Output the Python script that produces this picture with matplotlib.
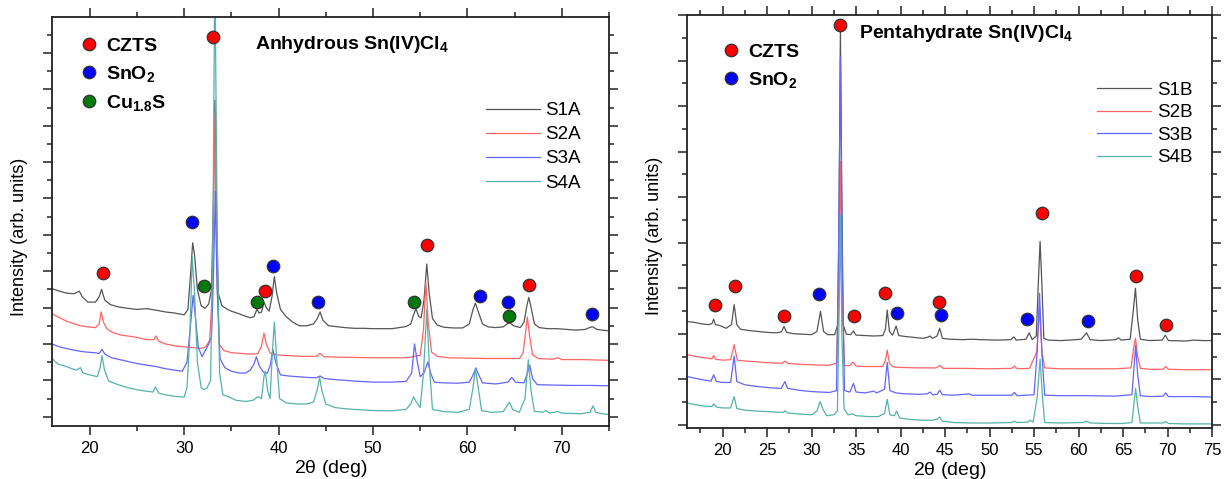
import matplotlib
matplotlib.use("Agg")
import matplotlib.pyplot as plt
from matplotlib.lines import Line2D
from matplotlib.ticker import MultipleLocator

plt.rcParams['font.family'] = ['Liberation Sans', 'DejaVu Sans']
plt.rcParams['mathtext.fontset'] = 'custom'
plt.rcParams['mathtext.rm'] = 'Liberation Sans'
plt.rcParams['mathtext.bf'] = 'Liberation Sans:bold'
plt.rcParams['mathtext.default'] = 'regular'

# ---- traced patterns, panel A (anhydrous) : 2theta, intensity (arb.)
s1a_tt = [16.0, 16.8, 17.5, 18.3, 18.9, 19.2, 19.8, 20.6, 21.0, 21.25, 21.6, 22.2, 23.0, 24.0, 25.0, 26.0, 27.0,
          28.0, 29.0, 30.0, 30.4, 30.7, 30.9, 31.1, 31.4, 31.8, 32.2, 32.6, 32.9, 33.1, 33.25, 33.4, 33.6, 34.0,
          34.6, 35.0, 35.6, 36.3, 37.0, 37.4, 37.7, 37.95, 38.2, 38.45, 38.7, 39.0, 39.3, 39.55, 39.8, 40.2, 40.8,
          41.5, 42.2, 43.0, 43.7, 44.1, 44.4, 44.7, 45.3, 46.0, 47.0, 48.0, 49.0, 50.0, 51.0, 52.0, 52.8, 53.5,
          54.0, 54.3, 54.55, 54.85, 55.1, 55.4, 55.7, 55.95, 56.3, 56.8, 57.5, 58.5, 59.5, 60.2, 60.6, 60.85,
          61.2, 61.6, 62.2, 63.0, 63.8, 64.2, 64.5, 64.9, 65.6, 66.0, 66.3, 66.5, 66.75, 67.1, 67.6, 68.5, 69.5,
          70.5, 71.5, 72.5, 73.0, 73.3, 73.7, 74.3, 75.0]
s1a_iv = [3.52, 3.45, 3.40, 3.38, 3.45, 3.30, 3.15, 3.15, 3.30, 3.50, 3.20, 3.08, 3.02, 2.98, 2.95, 2.97, 2.93,
          2.88, 2.85, 2.80, 2.95, 4.0, 4.78, 4.45, 3.5, 3.05, 2.98, 3.1, 3.5, 6.0, 8.7, 6.0, 3.4, 3.05,
          2.95, 2.9, 2.85, 2.78, 2.72, 2.75, 2.95, 2.85, 2.88, 3.15, 3.0, 2.9, 3.3, 3.85, 3.4, 2.95, 2.75,
          2.6, 2.5, 2.5, 2.55, 2.7, 2.88, 2.65, 2.5, 2.48, 2.45, 2.43, 2.43, 2.42, 2.42, 2.42, 2.45, 2.48,
          2.55, 2.8, 2.97, 2.75, 2.72, 3.2, 4.2, 3.4, 2.7, 2.52, 2.46, 2.44, 2.44, 2.55, 2.95, 3.12,
          2.85, 2.55, 2.47, 2.45, 2.47, 2.55, 2.58, 2.5, 2.45, 2.6, 3.05, 3.28, 3.0, 2.55, 2.45, 2.42, 2.42,
          2.4, 2.38, 2.40, 2.46, 2.47, 2.40, 2.38, 2.36]

s2a_tt = [16.0, 16.8, 17.6, 18.4, 19.0, 19.8, 20.6, 21.0, 21.2, 21.45, 21.8, 22.4, 23.2, 24.0, 25.0, 26.0, 26.8,
          27.0, 27.3, 28.0, 29.0, 30.0, 31.0, 31.8, 32.3, 32.7, 33.0, 33.25, 33.45, 33.7, 34.2, 35.0, 36.0,
          37.0, 37.8, 38.2, 38.45, 38.7, 39.1, 39.8, 41.0, 42.5, 44.0, 44.4, 44.8, 46.0, 48.0, 50.0, 52.0,
          53.5, 54.3, 54.6, 55.0, 55.35, 55.6, 55.85, 56.2, 56.8, 58.0, 60.0, 62.0, 64.0, 65.5, 65.9, 66.15,
          66.35, 66.6, 66.9, 67.5, 69.0, 69.6, 70.0, 72.0, 75.0]
s2a_iv = [2.83, 2.72, 2.62, 2.55, 2.50, 2.47, 2.45, 2.55, 2.88, 2.6, 2.42, 2.32, 2.25, 2.22, 2.18, 2.12, 2.12,
          2.22, 2.08, 2.0, 1.95, 1.92, 1.9, 1.88, 1.92, 2.1, 3.5, 8.35, 4.0, 2.0, 1.82, 1.76, 1.74,
          1.72, 1.73, 1.95, 2.3, 2.0, 1.75, 1.70, 1.68, 1.66, 1.66, 1.74, 1.65, 1.64, 1.63, 1.62, 1.62,
          1.62, 1.65, 1.68, 1.68, 2.4, 3.7, 2.6, 1.78, 1.66, 1.62, 1.61, 1.60, 1.6, 1.60, 1.75, 2.3,
          2.74, 2.2, 1.7, 1.6, 1.58, 1.62, 1.57, 1.57, 1.55]

s3a_tt = [16.0, 16.8, 17.6, 18.5, 19.5, 20.5, 21.0, 21.3, 21.6, 22.3, 23.0, 24.0, 25.0, 26.0, 27.0, 28.0, 29.0,
          29.8, 30.3, 30.7, 30.95, 31.2, 31.5, 31.9, 32.3, 32.6, 32.9, 33.1, 33.3, 33.5, 33.8, 34.3, 35.0,
          35.8, 36.5, 37.0, 37.4, 37.65, 37.95, 38.4, 38.8, 39.1, 39.4, 39.7, 40.2, 41.0, 42.0, 43.0, 44.0,
          44.4, 44.8, 46.0, 48.0, 50.0, 52.0, 53.5, 54.1, 54.4, 54.7, 55.0, 55.4, 55.8, 56.1, 56.5, 57.5,
          59.0, 60.2, 60.6, 60.9, 61.2, 61.6, 63.0, 64.3, 64.7, 65.1, 66.0, 66.3, 66.6, 66.9, 67.4, 69.0,
          71.0, 73.0, 75.0]
s3a_iv = [2.0, 1.92, 1.87, 1.82, 1.78, 1.76, 1.74, 1.85, 1.72, 1.62, 1.58, 1.52, 1.46, 1.42, 1.38, 1.32, 1.28,
          1.25, 1.5, 2.6, 3.34, 2.7, 1.9, 1.65, 1.85, 2.0, 2.2, 3.8, 6.2, 3.5, 1.6, 1.35, 1.25,
          1.2, 1.2, 1.28, 1.45, 1.65, 1.4, 1.22, 1.2, 1.4, 1.85, 1.5, 1.15, 1.12, 1.1, 1.08, 1.07,
          1.12, 1.05, 1.02, 0.98, 0.95, 0.95, 0.97, 1.2, 2.0, 1.5, 1.1, 1.2, 1.5, 1.2, 0.95, 0.93,
          0.92, 0.95, 1.15, 1.34, 1.15, 0.93, 0.9, 0.95, 1.08, 0.95, 0.93, 1.15, 1.42, 1.05, 0.88, 0.87,
          0.86, 0.86, 0.85]

s4a_tt = [16.0, 16.6, 17.3, 18.0, 18.6, 19.0, 19.3, 20.0, 20.8, 21.1, 21.3, 21.55, 22.0, 23.0, 24.0, 25.0, 26.0,
          26.7, 26.95, 27.3, 28.0, 29.0, 30.0, 30.3, 30.6, 30.85, 31.1, 31.4, 31.8, 32.1, 32.4, 32.8, 33.05,
          33.25, 33.5, 33.75, 34.1, 34.7, 35.5, 36.5, 37.3, 37.8, 38.2, 38.45, 38.6, 38.85, 39.1, 39.35, 39.55,
          39.8, 40.1, 40.8, 42.0, 43.0, 43.7, 44.1, 44.35, 44.6, 45.0, 46.0, 47.0, 48.0, 50.0, 52.0, 53.5,
          54.0, 54.3, 54.6, 55.0, 55.35, 55.7, 55.95, 56.3, 57.5, 59.0, 60.2, 60.6, 60.85, 61.15, 61.5, 62.5,
          63.8, 64.2, 64.45, 64.8, 65.5, 66.1, 66.45, 66.75, 67.1, 68.0, 68.3, 68.7, 69.6, 70.0, 72.0, 73.0,
          73.3, 73.6, 74.3, 75.0]
s4a_iv = [1.6, 1.45, 1.4, 1.33, 1.28, 1.35, 1.2, 1.15, 1.1, 1.35, 1.68, 1.3, 0.98, 0.88, 0.8, 0.74, 0.7,
          0.68, 0.82, 0.65, 0.6, 0.56, 0.54, 0.8, 2.2, 4.4, 3.4, 1.5, 0.8, 0.75, 0.78, 1.0, 5.0,
          12.5, 5.0, 1.2, 0.6, 0.55, 0.45, 0.42, 0.45, 0.55, 0.5, 1.1, 1.25, 0.7, 0.5, 1.8, 2.6,
          1.6, 0.5, 0.38, 0.35, 0.35, 0.4, 0.75, 1.08, 0.7, 0.35, 0.25, 0.22, 0.2, 0.17, 0.16, 0.2,
          0.35, 0.55, 0.4, 0.25, 1.2, 2.95, 1.5, 0.2, 0.14, 0.12, 0.2, 0.8, 1.33, 0.8, 0.17, 0.12,
          0.14, 0.3, 0.4, 0.2, 0.12, 0.5, 1.56, 0.7, 0.15, 0.12, 0.17, 0.1, 0.14, 0.1, 0.08, 0.12,
          0.3, 0.12, 0.08, 0.06]

# ---- traced patterns, panel B (pentahydrate)
s1b_tt = [16.0, 16.8, 17.6, 18.4, 18.8, 19.0, 19.2, 19.7, 20.4, 21.0, 21.3, 21.6, 22.0, 23.0, 24.0, 25.0, 26.0,
          26.6, 26.9, 27.2, 28.0, 29.0, 30.0, 30.6, 31.0, 31.35, 31.8, 32.6, 32.95, 33.1, 33.24, 33.4, 33.55,
          33.9, 34.4, 34.7, 35.0, 36.0, 37.0, 38.0, 38.3, 38.5, 38.75, 39.1, 39.5, 39.8, 40.5, 41.5, 42.5,
          43.0, 43.3, 43.6, 44.1, 44.4, 44.7, 45.5, 47.0, 48.0, 49.0, 51.0, 52.4, 52.75, 53.0, 54.1, 54.45,
          54.8, 55.25, 55.5, 55.68, 55.9, 56.1, 56.6, 58.0, 59.0, 60.3, 60.9, 61.3, 62.5, 64.2, 64.5, 64.8,
          65.8, 66.15, 66.4, 66.65, 66.95, 68.0, 69.4, 69.75, 70.1, 72.0, 73.0, 74.0, 75.0]
s1b_iv = [2.27, 2.25, 2.22, 2.2, 2.22, 2.32, 2.2, 2.18, 2.12, 2.2, 2.64, 2.2, 2.1, 2.07, 2.05, 2.03, 2.02,
          2.04, 2.16, 2.03, 2.0, 1.99, 1.98, 2.05, 2.49, 2.05, 1.98, 1.98, 2.2, 5.0, 8.7, 5.0, 2.2,
          1.99, 1.98, 2.06, 1.97, 1.96, 1.95, 1.96, 2.1, 2.52, 2.05, 1.97, 2.17, 1.96, 1.94, 1.92, 1.9,
          1.92, 1.95, 1.9, 1.95, 2.12, 1.9, 1.88, 1.87, 1.88, 1.87, 1.86, 1.87, 1.93, 1.86, 1.88, 2.02,
          1.87, 1.95, 3.2, 4.03, 3.0, 1.9, 1.86, 1.85, 1.86, 1.88, 2.02, 1.87, 1.85, 1.87, 1.91, 1.86,
          1.88, 2.5, 3.0, 2.3, 1.88, 1.85, 1.86, 1.97, 1.85, 1.84, 1.86, 1.85, 1.85]

s2b_tt = [16.0, 17.0, 18.0, 18.8, 19.0, 19.2, 20.0, 20.9, 21.3, 21.65, 22.5, 23.5, 24.5, 25.5, 26.7, 27.0, 27.3,
          28.5, 30.0, 31.0, 32.0, 32.8, 33.05, 33.24, 33.45, 33.7, 34.3, 34.65, 35.0, 36.0, 37.0, 38.0, 38.3,
          38.5, 38.75, 39.2, 40.0, 42.0, 44.0, 44.4, 44.8, 47.0, 50.0, 52.5, 52.8, 53.1, 54.5, 55.3, 55.6,
          55.9, 56.2, 58.0, 61.0, 64.0, 65.9, 66.2, 66.4, 66.65, 66.95, 68.0, 69.5, 69.8, 70.1, 72.0, 75.0]
s2b_iv = [1.54, 1.5, 1.47, 1.45, 1.52, 1.44, 1.42, 1.43, 1.76, 1.42, 1.4, 1.39, 1.37, 1.36, 1.35, 1.4, 1.35,
          1.33, 1.32, 1.31, 1.31, 1.35, 3.0, 5.78, 2.8, 1.3, 1.3, 1.38, 1.29, 1.28, 1.28, 1.28, 1.42,
          1.64, 1.35, 1.27, 1.26, 1.25, 1.25, 1.3, 1.24, 1.24, 1.23, 1.24, 1.29, 1.23, 1.24, 1.6, 2.53,
          1.6, 1.25, 1.23, 1.23, 1.23, 1.25, 1.7, 1.9, 1.5, 1.24, 1.22, 1.22, 1.28, 1.22, 1.21, 1.21]

s3b_tt = [16.0, 17.0, 18.0, 18.7, 19.0, 19.3, 20.0, 20.9, 21.3, 21.6, 22.5, 23.5, 24.5, 25.5, 26.6, 27.0, 27.3,
          28.5, 30.0, 31.0, 32.0, 32.8, 33.05, 33.24, 33.45, 33.7, 34.3, 34.7, 35.0, 36.0, 37.0, 37.3, 38.2,
          38.5, 38.8, 39.5, 40.5, 42.0, 43.0, 43.3, 43.6, 44.1, 44.4, 44.7, 46.0, 47.7, 48.0, 50.0, 52.5,
          52.8, 53.1, 55.0, 55.35, 55.62, 55.9, 56.2, 58.0, 61.0, 64.0, 66.0, 66.25, 66.42, 66.65, 66.95, 68.0,
          69.5, 69.8, 70.1, 73.0, 75.0]
s3b_iv = [1.06, 1.02, 0.98, 0.96, 1.1, 0.95, 0.93, 0.93, 1.51, 0.95, 0.88, 0.85, 0.83, 0.81, 0.8, 0.95, 0.8,
          0.76, 0.73, 0.72, 0.71, 0.75, 4.0, 8.08, 3.5, 0.75, 0.72, 0.91, 0.72, 0.7, 0.74, 0.7, 0.78,
          1.37, 0.75, 0.7, 0.68, 0.67, 0.68, 0.72, 0.66, 0.67, 0.76, 0.66, 0.65, 0.68, 0.65, 0.65, 0.65,
          0.71, 0.64, 0.66, 1.6, 2.89, 1.5, 0.65, 0.64, 0.64, 0.63, 0.66, 1.3, 1.75, 1.1, 0.64, 0.62,
          0.63, 0.7, 0.62, 0.62, 0.61]

s4b_tt = [16.0, 17.0, 18.0, 18.8, 19.0, 19.3, 20.0, 20.9, 21.3, 21.6, 22.5, 24.0, 26.0, 26.8, 27.0, 27.3, 28.5,
          30.0, 30.6, 30.95, 31.3, 31.7, 32.5, 32.9, 33.1, 33.24, 33.4, 33.65, 34.1, 34.6, 35.0, 36.5, 37.5,
          38.2, 38.5, 38.8, 39.3, 39.55, 39.9, 41.0, 42.5, 43.5, 44.1, 44.4, 44.7, 46.0, 48.0, 50.0, 52.5,
          52.8, 53.1, 54.3, 54.55, 54.9, 55.35, 55.68, 55.95, 56.2, 58.0, 60.5, 60.9, 61.3, 63.0, 65.0, 66.0,
          66.25, 66.42, 66.65, 66.95, 69.5, 69.8, 70.1, 72.0, 75.0]
s4b_iv = [0.48, 0.44, 0.41, 0.4, 0.46, 0.39, 0.37, 0.37, 0.62, 0.36, 0.32, 0.3, 0.28, 0.27, 0.31, 0.26, 0.24,
          0.22, 0.3, 0.51, 0.33, 0.2, 0.22, 0.3, 2.5, 4.6, 2.0, 0.35, 0.22, 0.24, 0.2, 0.18, 0.18,
          0.25, 0.56, 0.22, 0.2, 0.3, 0.15, 0.12, 0.1, 0.1, 0.12, 0.17, 0.08, 0.05, 0.04, 0.04, 0.05,
          0.08, 0.05, 0.06, 0.1, 0.06, 0.6, 1.44, 0.6, 0.05, 0.04, 0.05, 0.08, 0.04, 0.03, 0.03, 0.05,
          0.5, 0.8, 0.4, 0.04, 0.04, 0.07, 0.03, 0.02, 0.02]

# ---- phase markers
czts_a_tt = [21.4, 33.1, 38.56, 55.7, 66.5]
czts_a_iv = [3.95, 10.45, 3.46, 4.72, 3.61]
sno2_a_tt = [30.85, 39.45, 44.2, 61.36, 64.25, 73.2]
sno2_a_iv = [5.34, 4.15, 3.16, 3.31, 3.16, 2.82]
cus_a_tt = [32.1, 37.7, 54.3, 64.4]
cus_a_iv = [3.6, 3.16, 3.16, 2.76]

czts_b_tt = [19.1, 21.35, 26.86, 33.24, 34.8, 38.3, 44.33, 55.92, 66.46, 69.83]
czts_b_iv = [2.63, 3.04, 2.38, 8.79, 2.38, 2.9, 2.69, 4.65, 3.26, 2.2]
sno2_b_tt = [30.8, 39.57, 44.5, 54.2, 61.1]
sno2_b_iv = [2.88, 2.45, 2.41, 2.33, 2.28]

x_ticks_a = [20, 30, 40, 50, 60, 70]
x_ticks_b = [20, 25, 30, 35, 40, 45, 50, 55, 60, 65, 70, 75]

line_cols = ['#555555', '#ff6464', '#6464ff', '#55b3a8']
mk_red, mk_blue, mk_green = '#ff0000', '#0000ff', '#007a0a'

fig = plt.figure(figsize=(12.26, 4.79), dpi=100)
axA = fig.add_axes([52 / 1226, 1 - 426 / 479, 557 / 1226, 409 / 479])
axB = fig.add_axes([687 / 1226, 1 - 428 / 479, 525 / 1226, 413 / 479])


def style_axis(ax, major_x, minor_x, ylim, ymaj):
    ax.set_xlim(16, 75)
    ax.set_ylim(*ylim)
    ax.xaxis.set_major_locator(major_x)
    ax.xaxis.set_minor_locator(minor_x)
    ax.yaxis.set_major_locator(MultipleLocator(ymaj))
    ax.yaxis.set_minor_locator(MultipleLocator(ymaj / 2))
    ax.tick_params(which='both', direction='out', top=True, right=True, labelleft=False,
                   width=1.1, color='#222222')
    ax.tick_params(which='major', length=6.5, labelsize=12, pad=4)
    ax.tick_params(which='minor', length=3.5)
    for sp in ax.spines.values():
        sp.set_linewidth(1.3)
        sp.set_color('#222222')
    ax.set_xlabel(r'2$\theta$ (deg)', fontsize=14, labelpad=2)
    ax.set_ylabel('Intensity (arb. units)', fontsize=13)


def phase_marks(ax, tt, iv, col):
    ax.plot(tt, iv, 'o', ms=9, mfc=col, mec='#333333', mew=0.9, ls='none', clip_on=False, zorder=5)


def phase_handle(col, label):
    return Line2D([], [], marker='o', ls='none', ms=9, mfc=col, mec='#333333', mew=0.9, label=label)


# panel A
for tt, iv, c, lab in zip([s1a_tt, s2a_tt, s3a_tt, s4a_tt], [s1a_iv, s2a_iv, s3a_iv, s4a_iv],
                          line_cols, ['S1A', 'S2A', 'S3A', 'S4A']):
    axA.plot(tt, iv, color=c, lw=0.9, label=lab)
phase_marks(axA, czts_a_tt, czts_a_iv, mk_red)
phase_marks(axA, sno2_a_tt, sno2_a_iv, mk_blue)
phase_marks(axA, cus_a_tt, cus_a_iv, mk_green)
style_axis(axA, MultipleLocator(10), MultipleLocator(5), (-0.256, 10.99), 1.0)
axA.set_xticks(x_ticks_a)
axA.yaxis.set_label_coords(-0.043, 0.462)

legA = axA.legend(loc='upper left', bbox_to_anchor=(0.765, 0.81), frameon=False, fontsize=13.5,
                  handlelength=2.9, handletextpad=0.3, labelspacing=0.37, borderaxespad=0)
axA.add_artist(legA)
axA.legend(handles=[phase_handle(mk_red, 'CZTS'), phase_handle(mk_blue, 'SnO$_2$'),
                    phase_handle(mk_green, 'Cu$_{1.8}$S')],
           loc='upper left', bbox_to_anchor=(0.035, 0.97), frameon=False,
           prop={'size': 14, 'weight': 'bold'}, handlelength=1.0, handletextpad=0.4,
           labelspacing=0.47, borderaxespad=0)
axA.text(0.364, 0.932, r'Anhydrous Sn(IV)Cl$_4$', transform=axA.transAxes, fontsize=14,
         fontweight='bold', va='center', ha='left')

# panel B
for tt, iv, c, lab in zip([s1b_tt, s2b_tt, s3b_tt, s4b_tt], [s1b_iv, s2b_iv, s3b_iv, s4b_iv],
                          line_cols, ['S1B', 'S2B', 'S3B', 'S4B']):
    axB.plot(tt, iv, color=c, lw=0.9, label=lab)
phase_marks(axB, czts_b_tt, czts_b_iv, mk_red)
phase_marks(axB, sno2_b_tt, sno2_b_iv, mk_blue)
style_axis(axB, MultipleLocator(5), MultipleLocator(2.5), (-0.07, 9.0), 1.0)
axB.set_xticks(x_ticks_b)
axB.yaxis.set_label_coords(-0.046, 0.465)

legB = axB.legend(loc='upper left', bbox_to_anchor=(0.766, 0.857), frameon=False, fontsize=13.5,
                  handlelength=2.9, handletextpad=0.3, labelspacing=0.29, borderaxespad=0)
axB.add_artist(legB)
axB.legend(handles=[phase_handle(mk_red, 'CZTS'), phase_handle(mk_blue, 'SnO$_2$')],
           loc='upper left', bbox_to_anchor=(0.05, 0.95), frameon=False,
           prop={'size': 14, 'weight': 'bold'}, handlelength=1.0, handletextpad=0.4,
           labelspacing=0.45, borderaxespad=0)
axB.text(0.328, 0.956, r'Pentahydrate Sn(IV)Cl$_4$', transform=axB.transAxes, fontsize=14,
         fontweight='bold', va='center', ha='left')

fig.savefig('out.png', dpi=100)
